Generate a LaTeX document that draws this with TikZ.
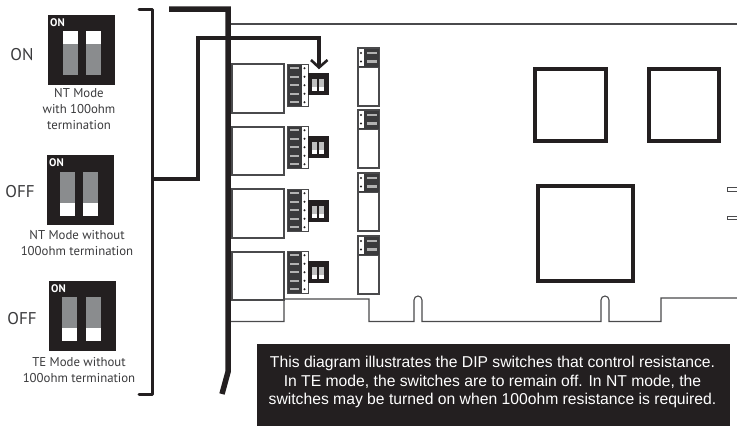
\documentclass[tikz,border=0pt]{standalone}
\usepackage{fontspec}
\setmainfont{PT Sans}
\newfontfamily\arialfont{Liberation Sans}
\definecolor{ink}{HTML}{231F20}
\definecolor{slotgray}{HTML}{8A8C8E}
\definecolor{edgegray}{HTML}{4A4A4C}
\definecolor{padgray}{HTML}{3A3A3C}
\definecolor{textgray}{HTML}{3A3A3C}
\tikzset{
  x=1pt,y=-1pt,
  heavy/.style={draw=ink,line width=3.6pt,line join=miter},
  heavier/.style={draw=ink,line width=5.5pt,line join=miter},
  bracketline/.style={draw=ink,line width=3pt,line join=round,line cap=round},
  outline/.style={draw=edgegray,line width=1.2pt,fill=white},
  chip/.style={draw=ink,line width=3.8pt},
  cardline/.style={draw=edgegray,line width=1.1pt,line join=miter},
  statelabel/.style={font=\fontsize{17}{20}\selectfont,text=textgray,inner sep=0pt},
  caption/.style={font=\fontsize{12.8}{16}\selectfont,text=textgray,inner sep=0pt,align=center},
  onlabel/.style={font=\fontsize{11}{11}\selectfont\bfseries,text=white,inner sep=0pt},
  note/.style={font=\arialfont\fontsize{15.7}{18.8}\selectfont,text=white,align=center,inner sep=0pt}
}
\begin{document}
\begin{tikzpicture}
\useasboundingbox (0,0) rectangle (737,426);
\newcommand{\bigswitch}[6]{%
  \fill[ink] (#1,#2) rectangle ++(67,70);
  \foreach \sx in {#3,#4}{
    \fill[slotgray] (\sx,#5) rectangle ++(15,44);
  }
  \ifnum#6=1
    \foreach \sx in {#3,#4}{\fill[white] (\sx,#5) rectangle ++(15,13);}
  \else
    \foreach \sx in {#3,#4}{\fill[white] (\sx,#5+31) rectangle ++(15,13);}
  \fi
  \node[onlabel,anchor=west] at (#1+2,#2+7.5) {ON};
}
\bigswitch{48}{15}{63}{86}{31}{1}
\bigswitch{47}{155}{60}{83}{172}{0}
\bigswitch{49}{281}{62}{86}{297}{0}
\node[statelabel] (s1) at (22,55) {ON};
\node[statelabel] (s2) at (20,192) {OFF};
\node[statelabel] (s3) at (22,319) {OFF};
\node[caption] (c1) at (79,109) {NT Mode\\with 100ohm\\termination};
\node[caption] (c2) at (77,243) {NT Mode without\\100ohm termination};
\node[caption] (c3) at (79,370) {TE Mode without\\100ohm termination};
% card outline
\coordinate (cardTL) at (231,24);
\coordinate (cardTR) at (737,24);
\draw[cardline] (cardTL) -- (cardTR);
\draw[cardline] (231,321.5) -- (284,321.5) -- (284,299) -- (369,299) -- (369,321.5) -- (414,321.5)
  -- (414,300) arc[start angle=180,end angle=360,radius=4] -- (422,321.5)
  -- (601,321.5) -- (601,300) arc[start angle=180,end angle=360,radius=4] -- (609,321.5)
  -- (661,321.5) -- (661,298) -- (737,298);
% ports
\foreach \y/\h in {64/49,127/48,189/49,252/48}{
  \draw[outline] (232,\y) rectangle ++(52,\h);
}
% connectors and small switches
\foreach \y/\sy in {64/73,126/136,189/200,251/261}{
  \fill[padgray] (287,\y) rectangle ++(15,42.5);
  \fill[white] (302,\y) rectangle ++(6,42.5);
  \draw[edgegray,line width=.7pt] (287,\y) rectangle ++(21,42.5);
  \foreach \k in {0,1,2,3,4}{
    \fill[gray!60] (290,\y+4.2+8.5*\k-1.2) rectangle ++(9,2.4);
    \fill[ink] (304.5,\y+4.2+8.5*\k) circle[radius=1.1];
  }
  \fill[ink] (308,\sy) rectangle ++(20.5,22);
  \foreach \sx in {312,319}{
    \fill[lightgray] (\sx,\sy+6) rectangle ++(5,11.5);
    \fill[white] (\sx,\sy+13.5) rectangle ++(5,4);
  }
}
% right headers
\foreach \y in {48,110,173,236}{
  \draw[outline] (358,\y) rectangle ++(21,58);
  \fill[padgray] (358,\y) rectangle ++(21,19);
  \fill[white] (358.5,\y+1) rectangle ++(5.5,17);
  \draw[edgegray,line width=.7pt] (358,\y) rectangle ++(21,19);
  \foreach \k in {0,1}{
    \fill[gray!60] (367,\y+5+8.5*\k-1.2) rectangle ++(10,2.4);
    \fill[ink] (361,\y+5+8.5*\k) circle[radius=1.1];
  }
}
% chips
\draw[chip] (535,69) rectangle (606,141);
\draw[chip] (649,69) rectangle (719,141);
\draw[chip] (538,186) rectangle (633,281);
% stubs
\draw[edgegray,line width=.9pt,fill=white] (737,187.5) -- (727.5,187.5) -- (727.5,191) -- (737,191);
\draw[edgegray,line width=.9pt,fill=white] (737,216) -- (727.5,216) -- (727.5,219.5) -- (737,219.5);
% bracket and connectors
\coordinate (brA) at (139,9);
\coordinate (brB) at (152,9);
\coordinate (brC) at (152,394);
\coordinate (brD) at (139,394);
\draw[bracketline] (brA) -- (brB) -- (brC) -- (brD);
\coordinate (pA) at (152,179);
\coordinate (pB) at (198,179);
\coordinate (pC) at (198,38);
\coordinate (pD) at (319,38);
\coordinate (pE) at (319,67);
\draw[heavy] (pA) -- (pB) -- (pC) -- (pD) -- (pE);
\draw[heavy,line width=2.6pt] (311,60) -- (319,67.5) -- (327.5,60);
\coordinate (eA) at (169,9);
\coordinate (eB) at (228,9);
\coordinate (eC) at (228,372);
\coordinate (eD) at (222,394);
\draw[heavier] (eA) -- (eB) -- (eC) -- (eD);
% note
\fill[ink] (257,344) rectangle (730,426);
\node[note] (note) at (492.5,382) {This diagram illustrates the DIP switches that control resistance.\\In TE mode, the switches are to remain off. In NT mode, the\\switches may be turned on when 100ohm resistance is required.};
\end{tikzpicture}
\end{document}
